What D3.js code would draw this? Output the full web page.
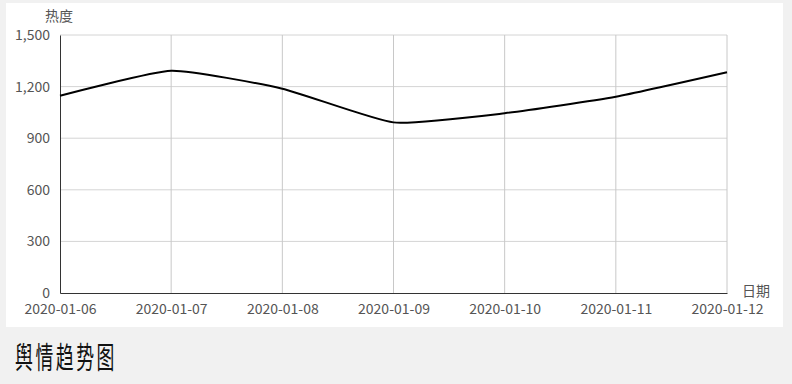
<!DOCTYPE html>
<html>
<head>
<meta charset="utf-8">
<script src="https://cdn.jsdelivr.net/npm/d3@7/dist/d3.min.js"></script>
<style>
  body { margin: 0; background: #f1f1f1; }
  svg { display: block; }
</style>
</head>
<body>
<svg id="chart" width="792" height="384"></svg>
<script>
// data
const dates = ["2020-01-06", "2020-01-07", "2020-01-08", "2020-01-09", "2020-01-10", "2020-01-11", "2020-01-12"];
const heat = [1147, 1292, 1188, 992, 1045, 1141, 1283];
const yTicks = [0, 300, 600, 900, 1200, 1500];

const svg = d3.select("#chart");
const margin = { left: 60, right: 65, top: 35, bottom: 91 };
const width = 792 - margin.left - margin.right;
const height = 384 - margin.top - margin.bottom;
const font = "'Noto Sans CJK SC', 'Noto Sans', sans-serif";

// white panel
svg.append("rect")
  .attr("x", 6).attr("y", 3)
  .attr("width", 777).attr("height", 324)
  .attr("fill", "#fff");

const g = svg.append("g")
  .attr("transform", `translate(${margin.left},${margin.top})`);

const xScale = d3.scalePoint()
  .domain(dates)
  .range([0, width]);

const yScale = d3.scaleLinear()
  .domain([0, 1500])
  .range([height, 0]);

// grid
g.append("g")
  .selectAll("line")
  .data(yTicks.filter(d => d > 0))
  .join("line")
  .attr("x1", 0).attr("x2", width)
  .attr("y1", d => yScale(d)).attr("y2", d => yScale(d))
  .attr("stroke", "#d4d4d4");

g.append("g")
  .selectAll("line")
  .data(dates.slice(1))
  .join("line")
  .attr("x1", d => xScale(d)).attr("x2", d => xScale(d))
  .attr("y1", 0).attr("y2", height)
  .attr("stroke", "#c8c8c8");

// axes
const yAxis = d3.axisLeft(yScale)
  .tickValues(yTicks)
  .tickFormat(d3.format(","))
  .tickSize(0)
  .tickPadding(10);

const xAxis = d3.axisBottom(xScale)
  .tickSize(0)
  .tickPadding(11);

const gy = g.append("g").call(yAxis);
gy.select(".domain").attr("stroke", "#333");
gy.selectAll("text")
  .attr("font-family", font)
  .attr("font-size", 14)
  .attr("fill", "#555");

const gx = g.append("g")
  .attr("transform", `translate(0, ${height})`)
  .call(xAxis);
gx.select(".domain").attr("stroke", "#333");
gx.selectAll("text")
  .attr("font-family", font)
  .attr("font-size", 14)
  .attr("fill", "#555");

// axis names
g.append("text")
  .attr("x", -15).attr("y", -14)
  .attr("font-family", font)
  .attr("font-size", 14)
  .attr("fill", "#555")
  .text("热度");

g.append("text")
  .attr("x", width + 15).attr("y", height + 3)
  .attr("font-family", font)
  .attr("font-size", 14)
  .attr("fill", "#555")
  .text("日期");

// the line
const line = d3.line()
  .x((d, i) => xScale(dates[i]))
  .y(d => yScale(d))
  .curve(d3.curveCardinal.tension(0.5));

g.append("path")
  .datum(heat)
  .attr("fill", "none")
  .attr("stroke", "#000")
  .attr("stroke-width", 2)
  .attr("d", line);

// title (tall, narrow glyphs like the brush font in the reference)
svg.append("text")
  .attr("transform", "translate(15,368) scale(0.85,1.4)")
  .attr("font-family", font)
  .attr("font-size", 21)
  .attr("letter-spacing", 3)
  .attr("fill", "#111")
  .text("舆情趋势图");
</script>
</body>
</html>
